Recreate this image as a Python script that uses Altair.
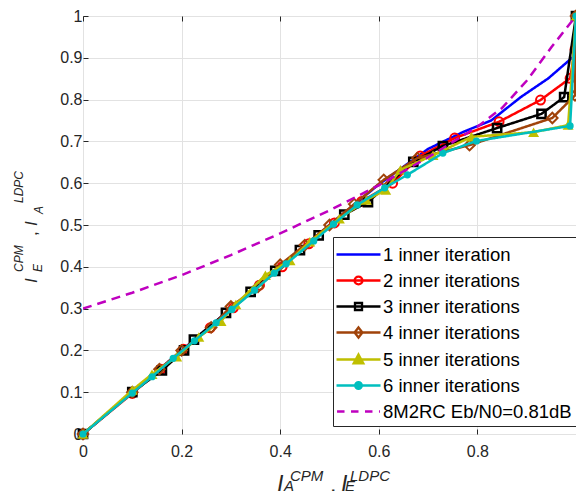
import altair as alt
import pandas as pd

# ---------------- data ----------------
names = ["1 inner iteration", "2 inner iterations", "3 inner iterations",
         "4 inner iterations", "5 inner iterations", "6 inner iterations",
         "8M2RC Eb/N0=0.81dB"]
colors = ["#0000FF", "#FF0000", "#000000", "#A0430A", "#BFBF00", "#00BFBF", "#BF00BF"]

x1 = [0, 0.1, 0.2, 0.3, 0.4, 0.5, 0.6, 0.7, 0.77, 0.828, 0.888, 0.944, 0.994, 1.0]
y1 = [0, 0.1, 0.2, 0.3, 0.4, 0.5, 0.597, 0.682, 0.722, 0.75, 0.806, 0.851, 0.902, 1.0]

x2 = [0, 0.1, 0.158, 0.204, 0.258, 0.305, 0.358, 0.404, 0.458, 0.51, 0.565, 0.628, 0.684, 0.754, 0.844, 0.928, 0.988, 0.998, 1.0]
y2 = [0, 0.097, 0.155, 0.203, 0.254, 0.302, 0.356, 0.40, 0.455, 0.505, 0.556, 0.60, 0.665, 0.708, 0.747, 0.799, 0.851, 0.92, 1.0]

x3 = [0, 0.1, 0.16, 0.205, 0.225, 0.29, 0.34, 0.39, 0.44, 0.478, 0.53, 0.578, 0.67, 0.73, 0.84, 0.93, 0.976, 1.0]
y3 = [0, 0.1, 0.152, 0.2, 0.226, 0.29, 0.34, 0.39, 0.44, 0.475, 0.525, 0.555, 0.651, 0.689, 0.732, 0.766, 0.806, 1.0]

x4 = [0, 0.1, 0.155, 0.2, 0.26, 0.3, 0.355, 0.4, 0.45, 0.5, 0.55, 0.61, 0.678, 0.784, 0.952, 0.998, 1.0]
y4 = [0, 0.1, 0.155, 0.2, 0.255, 0.305, 0.352, 0.405, 0.452, 0.5, 0.55, 0.608, 0.66, 0.691, 0.756, 0.81, 1.0]

x5 = [0, 0.1, 0.14, 0.19, 0.235, 0.28, 0.31, 0.37, 0.42, 0.46, 0.52, 0.575, 0.614, 0.644, 0.71, 0.788, 0.914, 0.984, 1.0]
y5 = [0, 0.105, 0.143, 0.185, 0.232, 0.27, 0.31, 0.38, 0.415, 0.46, 0.515, 0.56, 0.584, 0.632, 0.667, 0.711, 0.722, 0.739, 1.0]

x6 = [0, 0.1, 0.14, 0.183, 0.226, 0.27, 0.302, 0.348, 0.388, 0.412, 0.468, 0.508, 0.556, 0.612, 0.658, 0.73, 0.798, 0.988, 1.0]
y6 = [0, 0.098, 0.137, 0.181, 0.223, 0.266, 0.298, 0.344, 0.385, 0.407, 0.462, 0.502, 0.548, 0.589, 0.620, 0.672, 0.701, 0.737, 1.0]

x7 = [0, 0.1, 0.2, 0.3, 0.4, 0.5, 0.6, 0.7, 0.8, 0.85, 0.9, 0.95, 1.0]
y7 = [0.30, 0.338, 0.38, 0.428, 0.48, 0.535, 0.595, 0.662, 0.735, 0.78, 0.845, 0.925, 1.0]

series_x = [x1, x2, x3, x4, x5, x6, x7]
series_y = [y1, y2, y3, y4, y5, y6, y7]

x_ticks = [0, 0.2, 0.4, 0.6, 0.8]
y_ticks = [0, 0.1, 0.2, 0.3, 0.4, 0.5, 0.6, 0.7, 0.8, 0.9, 1.0]

rows = []
for n, xs, ys in zip(names, series_x, series_y):
    for k, (a, b) in enumerate(zip(xs, ys)):
        rows.append({"series": n, "x": a, "y": b, "k": k})
df = pd.DataFrame(rows)

# ---------------- styling ----------------
FONT = "Liberation Sans"
AX = "#262626"
GRID = "#e2e2e2"
xscale = alt.Scale(domain=[0, 1], nice=False, zero=False)
yscale = alt.Scale(domain=[0, 1], nice=False, zero=False)
x_bottom = alt.Axis(orient="bottom", values=x_ticks, format=".1~f", title=None, grid=True,
                    gridColor=GRID, domain=False, ticks=True, tickSize=5, tickColor=AX,
                    offset=-5, labelFont=FONT, labelFontSize=16, labelColor=AX, labelPadding=9,
                    labelFlush=False, labelOverlap=False)
x_top = alt.Axis(orient="top", values=x_ticks + [1.0], title=None, grid=False, labels=False,
                 domain=False, ticks=True, tickSize=5, tickColor=AX, offset=-5)
yaxis = alt.Axis(values=y_ticks, format=".1~f", title=None, grid=True, gridColor=GRID,
                 domain=False, ticks=True, tickSize=5, tickColor=AX, offset=-5,
                 labelFont=FONT, labelFontSize=16, labelColor=AX, labelPadding=1,
                 labelFlush=False, labelOverlap=False)
Y = alt.Y("y:Q", scale=yscale, axis=yaxis)

markers = [None,
           dict(shape="circle", filled=False, size=80, strokeWidth=2.0),
           dict(shape="square", filled=False, size=68, strokeWidth=2.5),
           dict(shape="diamond", filled=False, size=110, strokeWidth=2.0),
           dict(shape="triangle-up", filled=True, size=120),
           dict(shape="circle", filled=True, size=52),
           None]

layers = []
for i, n in enumerate(names):
    base = alt.Chart(df).transform_filter(alt.datum.series == n)
    dash = [9, 6] if i == 6 else [1, 0]
    if i == 0:
        X = alt.X("x:Q", scale=xscale, axis=x_bottom)
    elif i == 1:
        X = alt.X("x:Q", scale=xscale, axis=x_top)
    else:
        X = alt.X("x:Q", scale=xscale, axis=None)
    layers.append(base.mark_line(color=colors[i], strokeWidth=2.5, strokeDash=dash,
                                 clip=True).encode(x=X, y=Y, order="k:Q"))
    if markers[i] is not None:
        m = markers[i]
        layers.append(base.mark_point(color=colors[i], opacity=1, clip=False, **m)
                      .encode(x=alt.X("x:Q", scale=xscale, axis=None), y=Y))

# ---------------- legend (line + marker symbols as custom paths) ----------------
line = "M-2,0H2"
legend_shapes = [
    line,
    line + "M-0.36,0A0.36,0.36,0,1,0,0.36,0A0.36,0.36,0,1,0,-0.36,0Z",
    line + "M-0.32,-0.32H0.32V0.32H-0.32Z",
    line + "M0,-0.46L0.36,0L0,0.46L-0.36,0Z",
    line + "M0,-0.46L0.44,0.34H-0.44Z",
    line + "M-0.3,0A0.3,0.3,0,1,0,0.3,0A0.3,0.3,0,1,0,-0.3,0Z",
    "M-1.95,0H-1.27M-0.68,0H0M0.59,0H1.27M1.86,0H1.95",
]
legend_fill = ["transparent", "transparent", "transparent", "transparent",
               colors[4], colors[5], "transparent"]

leg = alt.Legend(orient="none", legendX=250, legendY=221, title=None,
                 labelFont=FONT, labelFontSize=18.5, labelColor="#000000", labelLimit=400,
                 symbolSize=484, symbolStrokeWidth=2.3, strokeColor=AX,
                 fillColor="white", padding=5, rowPadding=4, labelOffset=12,
                 symbolOffset=8, cornerRadius=0)

legend_layer = alt.Chart(df).transform_filter("false").mark_point(
    opacity=1, size=484, strokeWidth=2.3).encode(
    shape=alt.Shape("series:N", scale=alt.Scale(domain=names, range=legend_shapes), legend=leg),
    stroke=alt.Stroke("series:N", scale=alt.Scale(domain=names, range=colors), legend=leg),
    fill=alt.Fill("series:N", scale=alt.Scale(domain=names, range=legend_fill), legend=leg),
)
layers.append(legend_layer)

# ---------------- axis titles with super/subscripts ----------------
one = pd.DataFrame({"a": [0]})
x_title = [("I", 194, 476, 23), ("CPM", 207, 465, 15), ("A", 201, 475, 15),
           (",", 247, 476, 23), ("I", 258, 476, 23), ("LDPC", 267, 465, 15), ("E", 262, 475, 15)]
y_title = [("I", -46, 267, 17), ("CPM", -60, 256, 12), ("E", -41, 256, 12),
           (",", -46, 220, 17), ("I", -46, 210, 17), ("LDPC", -60, 187, 12), ("A", -40, 198, 12)]
for t, px, py, fs in x_title:
    layers.append(alt.Chart(one).mark_text(text=t, align="left", baseline="alphabetic",
                                           font=FONT, fontSize=fs,
                                           fontStyle="normal" if t == "," else "italic",
                                           color=AX)
                  .encode(x=alt.value(px), y=alt.value(py)))
for t, px, py, fs in y_title:
    layers.append(alt.Chart(one).mark_text(text=t, align="left", baseline="alphabetic", angle=270,
                                           font=FONT, fontSize=fs,
                                           fontStyle="normal" if t == "," else "italic",
                                           color=AX)
                  .encode(x=alt.value(px), y=alt.value(py)))

chart = alt.layer(*layers).resolve_axis(x="independent").properties(
    width=493, height=418,
    autosize=alt.AutoSizeParams(type="none"),
    padding={"left": 75, "top": 8, "right": 0, "bottom": 57},
    background="white",
).configure_view(stroke=AX, strokeWidth=1)

chart.save("out.html", embed_options={"renderer": "svg", "actions": False})
